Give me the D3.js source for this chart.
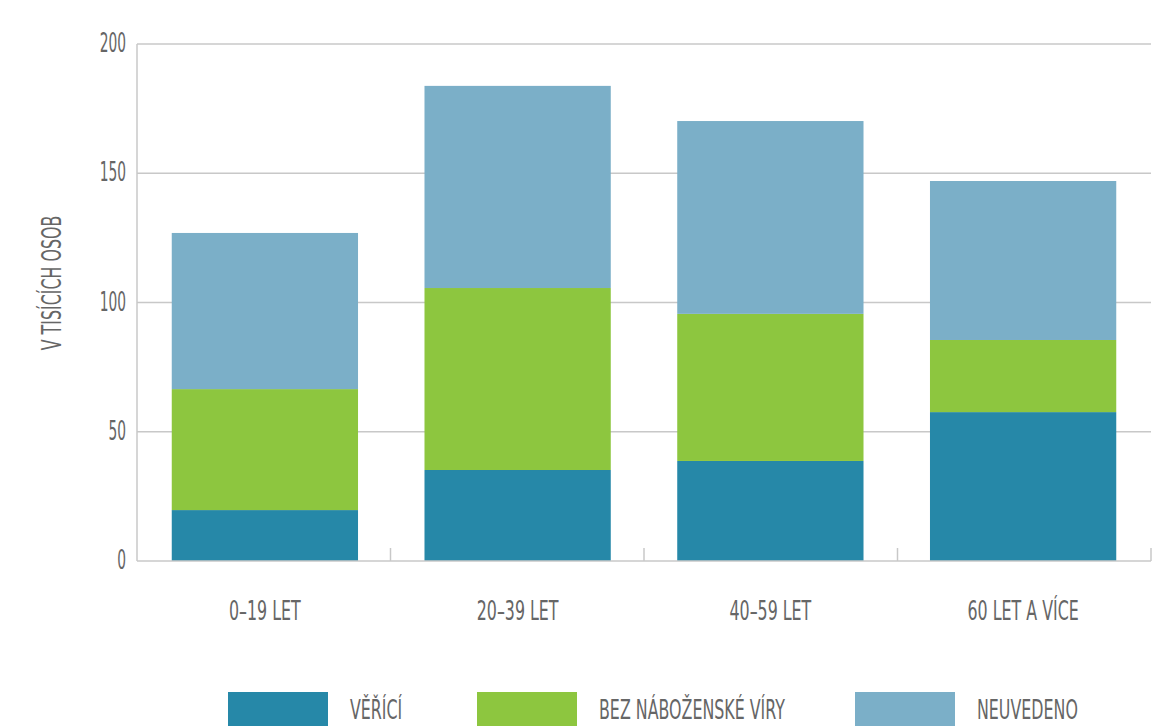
<!DOCTYPE html>
<html>
<head>
<meta charset="utf-8">
<script src="https://cdn.jsdelivr.net/npm/d3@7"></script>
<style>
  body { margin: 0; background: #fff; }
  text { font-family: "DejaVu Sans", sans-serif; fill: #666; font-size: 26px; }
</style>
</head>
<body>
<div id="chart"></div>
<script>
// data (thousands of persons)
const categories = ["0–19 LET", "20–39 LET", "40–59 LET", "60 LET A VÍCE"];
const seriesNames = ["VĚŘÍCÍ", "BEZ NÁBOŽENSKÉ VÍRY", "NEUVEDENO"];
const veriici = [19.7, 35.2, 38.7, 57.6];
const bezViry = [46.8, 70.4, 56.9, 27.9];
const neuvedeno = [60.4, 78.2, 74.6, 61.5];
const yTicks = [0, 50, 100, 150, 200];
const colors = ["#2688a8", "#8dc63f", "#7bafc8"];

const W = 1176, H = 726;
const plotLeft = 137, plotRight = 1151, plotTop = 44, plotBottom = 561;
const narrow = 0.61;   // the original font is a condensed one, squeeze DejaVu to match
const narrowNum = 0.53;

const svg = d3.select("#chart").append("svg")
  .attr("width", W).attr("height", H);

const rows = categories.map((c, i) => ({cat: c, s0: veriici[i], s1: bezViry[i], s2: neuvedeno[i]}));
const stack = d3.stack().keys(["s0", "s1", "s2"])(rows);

const x = d3.scaleBand().domain(categories).range([plotLeft, plotRight])
  .paddingInner(0.263).paddingOuter(0.1375);
const y = d3.scaleLinear().domain([0, 200]).range([plotBottom, plotTop]);

// gridlines
svg.append("g").selectAll("line").data(yTicks.slice(1)).join("line")
  .attr("x1", plotLeft).attr("x2", plotRight)
  .attr("y1", d => y(d)).attr("y2", d => y(d))
  .attr("stroke", "#c8c8c8").attr("stroke-width", 1.5);

// y tick labels
svg.append("g").selectAll("text").data(yTicks).join("text")
  .attr("transform", d => `translate(126,${y(d) + 8}) scale(${narrowNum},1)`)
  .attr("text-anchor", "end")
  .text(d => d);

// bars
svg.append("g").selectAll("g").data(stack).join("g")
  .attr("fill", (d, i) => colors[i])
  .selectAll("rect").data(d => d).join("rect")
  .attr("x", d => x(d.data.cat))
  .attr("width", x.bandwidth())
  .attr("y", d => y(d[1]))
  .attr("height", d => y(d[0]) - y(d[1]));

// axis lines and category tick marks
svg.append("line").attr("x1", plotLeft).attr("x2", plotLeft).attr("y1", plotTop).attr("y2", plotBottom)
  .attr("stroke", "#c8c8c8").attr("stroke-width", 1.5);
svg.append("line").attr("x1", plotLeft).attr("x2", plotRight).attr("y1", plotBottom).attr("y2", plotBottom)
  .attr("stroke", "#c8c8c8").attr("stroke-width", 1.5);
const step = (plotRight - plotLeft) / categories.length;
svg.append("g").selectAll("line").data(d3.range(1, categories.length + 1)).join("line")
  .attr("x1", i => plotLeft + i * step).attr("x2", i => plotLeft + i * step)
  .attr("y1", plotBottom - 13).attr("y2", plotBottom)
  .attr("stroke", "#c8c8c8").attr("stroke-width", 1.5);

// category labels
svg.append("g").selectAll("text").data(categories).join("text")
  .attr("transform", d => `translate(${x(d) + x.bandwidth() / 2},620) scale(${narrow},1)`)
  .attr("text-anchor", "middle")
  .text(d => d);

// y axis title
svg.append("text")
  .attr("transform", `translate(61,283) rotate(-90) scale(${narrow},1)`)
  .attr("text-anchor", "middle")
  .text("V TISÍCÍCH OSOB");

// legend
const legendX = [228, 477, 855];
const lg = svg.append("g").selectAll("g").data(seriesNames).join("g")
  .attr("transform", (d, i) => `translate(${legendX[i]},692)`);
lg.append("rect").attr("width", 100).attr("height", 40).attr("fill", (d, i) => colors[i]);
lg.append("text")
  .attr("transform", `translate(122,27) scale(${narrow},1)`)
  .text(d => d);
</script>
</body>
</html>
